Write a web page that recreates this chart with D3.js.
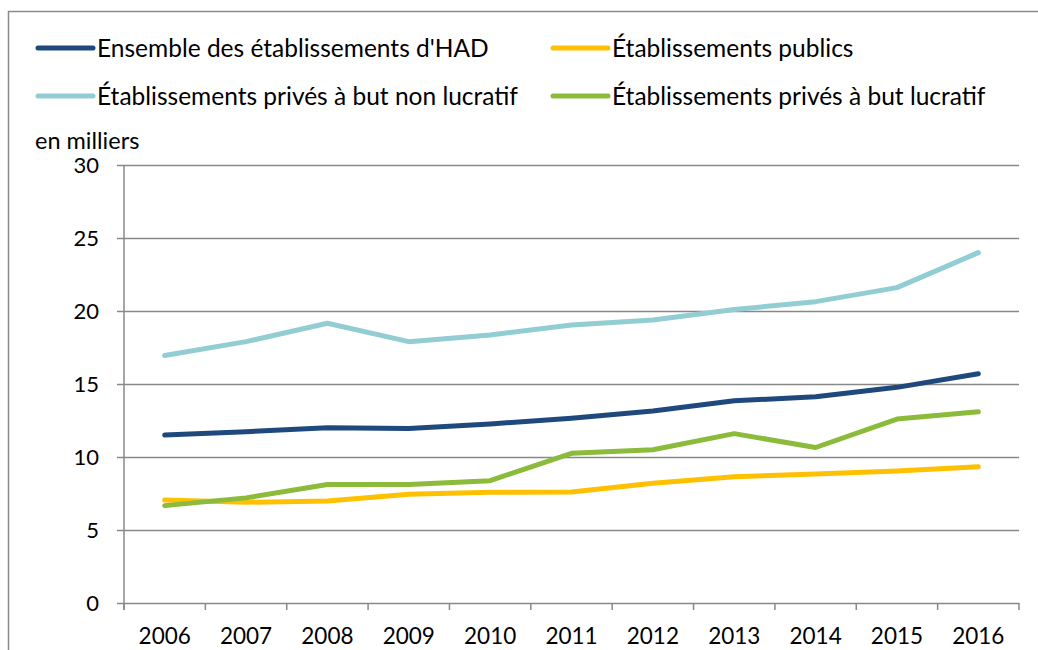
<!DOCTYPE html>
<html><head><meta charset="utf-8">
<script src="https://cdn.jsdelivr.net/npm/d3@7"></script>
<style>
html,body{margin:0;padding:0;background:#fff;}
svg{display:block;font-family:Lato,"Open Sans",sans-serif;}
</style></head>
<body>
<svg id="c" width="1038" height="650"></svg>
<script>
const years = ["2006","2007","2008","2009","2010","2011","2012","2013","2014","2015","2016"];
const seriesNames = ["Ensemble des établissements d'HAD","Établissements publics","Établissements privés à but non lucratif","Établissements privés à but lucratif"];
const seriesColors = ["#1F497D","#FFC000","#92CDD4","#8CBB3C"];
const ensemble = [11.5,11.73,12.0,11.96,12.26,12.65,13.15,13.85,14.13,14.77,15.7];
const publics = [7.05,6.9,6.99,7.45,7.58,7.6,8.2,8.65,8.84,9.04,9.34];
const nonLucratif = [16.95,17.9,19.16,17.9,18.36,19.04,19.38,20.1,20.64,21.6,24.0];
const lucratif = [6.67,7.2,8.12,8.12,8.38,10.25,10.5,11.6,10.65,12.6,13.1];
const yTicks = [0,5,10,15,20,25,30];
const yUnit = "en milliers";

const values = [ensemble, publics, nonLucratif, lucratif];
const svg = d3.select("#c");
const m = {left:124, right:1019, top:165, bottom:603};
const x = d3.scaleBand().domain(years).range([m.left, m.right]);
const y = d3.scaleLinear().domain([0,30]).range([m.bottom, m.top]);
const gridCol = "#888888";

// outer border
svg.append("path").attr("d", `M8.5,650 V11.5 H1038`).attr("fill","none").attr("stroke","#8a8a8a").attr("stroke-width",1.5);

// gridlines + y axis
const ya = svg.append("g").attr("transform",`translate(${m.left},0)`)
  .call(d3.axisLeft(y).tickValues(yTicks).tickSize(7).tickPadding(18));
ya.select(".domain").remove();
ya.selectAll(".tick line").attr("stroke",gridCol).attr("stroke-width",1.5);
ya.selectAll(".tick").append("line").attr("x1",0).attr("x2",m.right-m.left).attr("stroke",gridCol).attr("stroke-width",1.5);
ya.selectAll(".tick text").attr("font-size",22).attr("fill","#000").attr("font-family","Lato").attr("dy","0.36em");

svg.append("line").attr("x1",m.left).attr("x2",m.left).attr("y1",m.top).attr("y2",m.bottom+7).attr("stroke",gridCol).attr("stroke-width",1.5);

// x axis
const xa = svg.append("g").attr("transform",`translate(0,${m.bottom})`)
  .call(d3.axisBottom(x).tickSize(0).tickPadding(25));
xa.select(".domain").remove();
xa.selectAll(".tick text").attr("font-size",22.5).attr("fill","#000").attr("font-family","Lato");
const bounds = years.map(d=>x(d)).concat([m.right]);
svg.append("g").selectAll("line").data(bounds).join("line")
  .attr("x1",d=>d).attr("x2",d=>d).attr("y1",m.bottom).attr("y2",m.bottom+7)
  .attr("stroke",gridCol).attr("stroke-width",1.5);

// lines
const line = d3.line().x((d,i)=>x(years[i])+x.bandwidth()/2).y(d=>y(d));
const drawOrder = [2,0,1,3];
drawOrder.forEach(k=>{
  svg.append("path").datum(values[k]).attr("d",line).attr("fill","none")
    .attr("stroke",seriesColors[k]).attr("stroke-width",5).attr("stroke-linecap","round").attr("stroke-linejoin","round");
});

// legend
const legPos = [[38,48],[553,48],[38,96],[553,96]];
seriesNames.forEach((n,k)=>{
  const [lx,ly] = legPos[k];
  svg.append("line").attr("x1",lx).attr("x2",lx+55).attr("y1",ly).attr("y2",ly)
    .attr("stroke",seriesColors[k]).attr("stroke-width",5).attr("stroke-linecap","round");
  svg.append("text").attr("x",lx+59).attr("y",ly).attr("dy","0.36em")
    .attr("font-size",24.5).attr("fill","#000").text(n);
});
svg.append("text").attr("x",35).attr("y",149).attr("font-size",23.5).attr("fill","#000").text(yUnit);
</script>
</body></html>
